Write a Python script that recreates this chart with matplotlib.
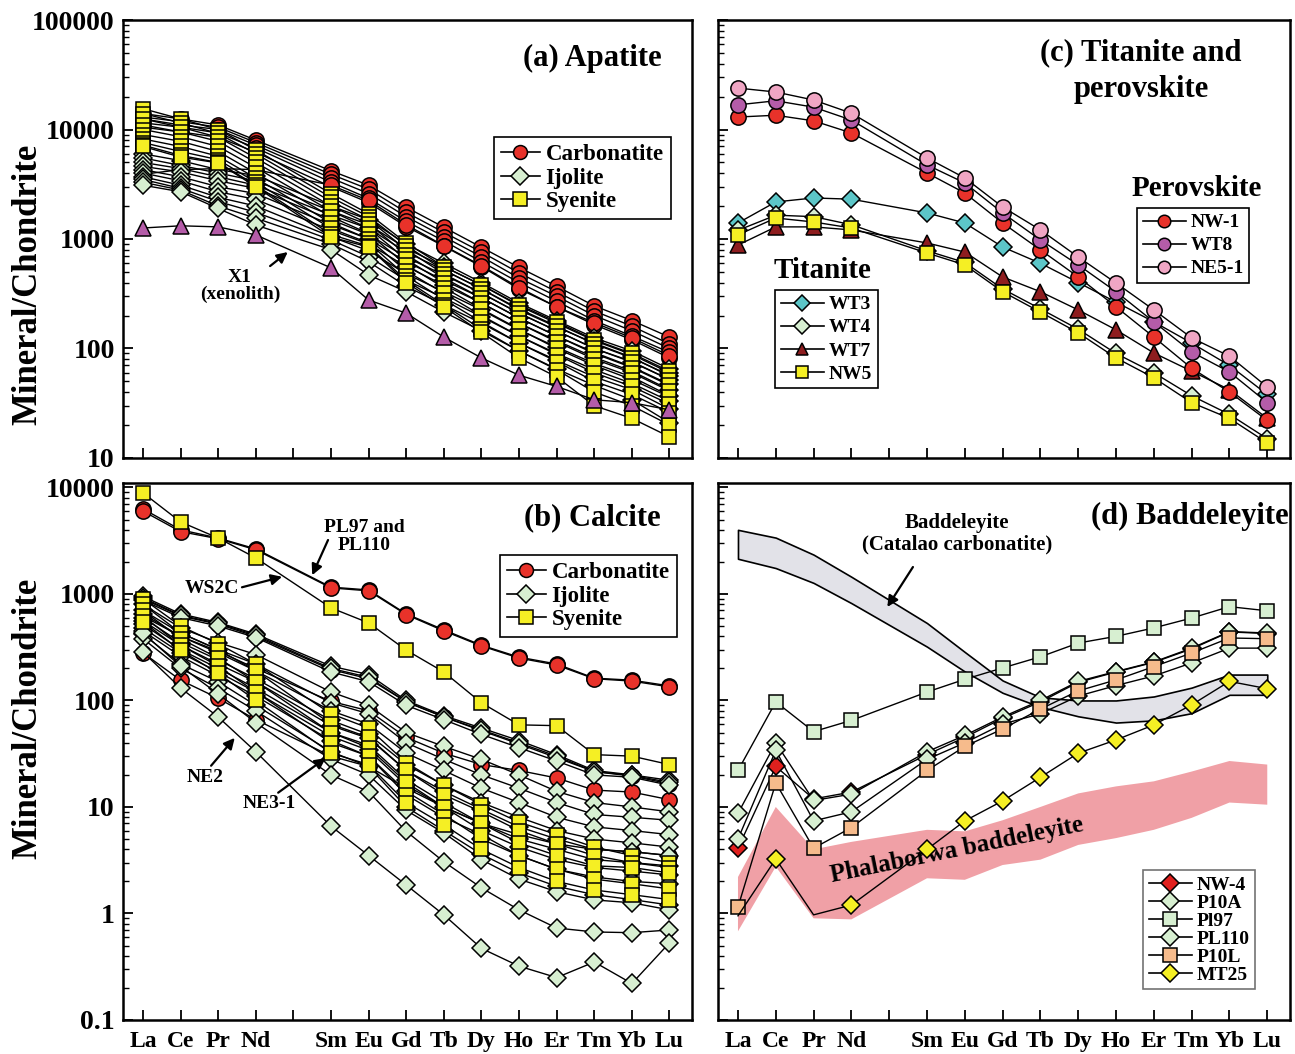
import matplotlib
matplotlib.use('Agg')
import matplotlib.pyplot as plt
from matplotlib.lines import Line2D
from matplotlib.ticker import LogLocator, NullFormatter, FuncFormatter
import numpy as np

plt.rcParams['font.family'] = ['Liberation Serif', 'DejaVu Serif']
plt.rcParams['font.weight'] = 'bold'

# REE positions (atomic number, Pm skipped)
ree_pos = [57, 58, 59, 60, 62, 63, 64, 65, 66, 67, 68, 69, 70, 71]
tick_pos = list(range(57, 72))
tick_labels = ['La', 'Ce', 'Pr', 'Nd', '', 'Sm', 'Eu', 'Gd', 'Tb', 'Dy', 'Ho', 'Er', 'Tm', 'Yb', 'Lu']

# ---- (a) apatite ----
ap_carbonatite = [
    [14000, 12500, 11000, 8000, 4200, 3100, 1950, 1280, 840, 550, 370, 245, 180, 127],
    [13000, 11800, 10500, 7600, 3900, 2850, 1750, 1150, 760, 490, 330, 220, 160, 110],
    [12500, 11000, 10000, 7200, 3600, 2600, 1600, 1050, 690, 440, 300, 200, 145, 100],
    [11500, 10500, 9300, 6800, 3300, 2350, 1450, 960, 620, 400, 270, 180, 130, 92],
    [10500, 9500, 8500, 6200, 3000, 2150, 1300, 860, 560, 350, 240, 165, 120, 82],
    [3900, 4300, 4400, 4300, 3100, 2250, 1350, 870, 570, 360, 240, 172, 125, 86],
]
ap_ijolite = [
    [6000, 5200, 4300, 3800, 2000, 1500, 900, 600, 400, 260, 180, 125, 95, 65],
    [5500, 4700, 4000, 3400, 1800, 1350, 820, 560, 380, 245, 170, 118, 88, 60],
    [5000, 4400, 3700, 3100, 1650, 1250, 760, 520, 350, 225, 157, 112, 83, 56],
    [4600, 4100, 3400, 2900, 1500, 1100, 680, 470, 320, 210, 145, 100, 76, 52],
    [4300, 3700, 3000, 2600, 1350, 1000, 620, 420, 290, 190, 130, 92, 68, 47],
    [4000, 3400, 2700, 2300, 1200, 900, 560, 380, 260, 170, 118, 83, 62, 42],
    [3700, 3100, 2400, 2000, 1050, 780, 480, 330, 225, 148, 103, 73, 55, 37],
    [3500, 2900, 2200, 1750, 980, 690, 420, 290, 195, 130, 90, 64, 48, 33],
    [3300, 2800, 2000, 1550, 900, 620, 370, 250, 170, 112, 78, 55, 42, 28],
    [3100, 2700, 1900, 1340, 800, 470, 330, 215, 145, 95, 65, 46, 34, 21],
]
ap_syenite = [
    [15500, 12500, 10000, 6500, 2600, 1700, 920, 560, 380, 250, 175, 120, 90, 62],
    [14000, 11500, 9200, 6000, 2400, 1600, 870, 520, 350, 230, 160, 110, 82, 57],
    [12500, 10500, 8500, 5500, 2200, 1500, 800, 480, 320, 210, 145, 100, 75, 52],
    [11000, 9500, 7800, 5000, 2000, 1380, 720, 440, 290, 190, 130, 90, 67, 46],
    [10000, 8600, 7000, 4500, 1800, 1250, 650, 400, 260, 170, 115, 80, 60, 41],
    [9000, 7800, 6300, 4000, 1600, 1120, 580, 360, 230, 150, 100, 70, 52, 36],
    [8200, 7000, 5700, 3600, 1400, 1000, 510, 320, 200, 130, 88, 60, 45, 31],
    [7600, 6300, 5300, 3300, 1250, 920, 460, 280, 175, 112, 76, 50, 38, 26],
    [7200, 5800, 5000, 3100, 1100, 860, 420, 250, 150, 95, 64, 40, 30, 20],
    [7000, 5600, 4950, 3000, 1040, 845, 400, 240, 140, 82, 55, 30, 23, 15.6],
]
ap_x1 = [1260, 1320, 1290, 1090, 545, 277, 210, 127, 82, 57, 45, 34, 32, 27.5]

# ---- (b) calcite ----
cc_carbonatite = [
    [6300, 4000, 3350, 2650, 1160, 1090, 650, 460, 330, 255, 220, 162, 155, 137],
    [6000, 3850, 3300, 2600, 1140, 1070, 640, 450, 325, 250, 215, 160, 152, 134],
    [900, 620, 520, 400, 195, 160, 97, 70, 52, 39, 29, 21.5, 19.5, 16.5],
    [620, 400, 290, 200, 98, 80, 45, 32, 25, 22, 18.7, 14.4, 13.8, 11.7],
    [280, 155, 105, 66, 30, 24, 15, 10, 7, 5.5, 4.5, 4.0, 3.8, 3.5],
]
cc_ijolite = [
    [950, 650, 540, 420, 210, 175, 100, 72, 55, 42, 31, 22, 20, 17.8],
    [920, 630, 530, 410, 200, 165, 97, 70, 53, 40, 30, 21.5, 19.8, 17],
    [870, 600, 500, 390, 185, 150, 90, 66, 48, 36, 27, 20, 19, 16],
    [800, 480, 350, 270, 120, 90, 50, 37, 28, 20, 14, 11, 10, 9],
    [700, 430, 300, 220, 95, 75, 40, 28, 20, 15, 11, 8.5, 8, 7.5],
    [650, 400, 280, 190, 80, 60, 32, 22, 15, 11, 8, 6.5, 6, 5.5],
    [600, 350, 240, 160, 65, 48, 25, 16, 11, 8, 6, 5, 4.6, 4.2],
    [560, 330, 220, 150, 58, 44, 22, 14, 9.5, 6.5, 5, 4, 3.8, 3.5],
    [520, 300, 200, 130, 50, 38, 18, 11, 7, 5, 4, 3.2, 3, 2.8],
    [480, 280, 185, 120, 46, 34, 16, 10, 6, 4.2, 3.2, 2.7, 2.5, 2.3],
    [450, 260, 170, 110, 42, 30, 14, 8.5, 5, 3.5, 2.6, 2.2, 2, 1.9],
    [420, 220, 150, 90, 33, 24, 10, 6, 3.6, 2.4, 1.8, 1.5, 1.35, 1.2],
    [380, 200, 130, 80, 28, 20, 9.3, 5.7, 3.2, 2.1, 1.6, 1.34, 1.26, 1.08],
    [430, 210, 115, 62, 20, 13.9, 5.9, 3.06, 1.74, 1.08, 0.73, 0.67, 0.66, 0.70],   # NE3-1
    [285, 131, 70, 33, 6.6, 3.5, 1.85, 0.97, 0.47, 0.32, 0.25, 0.35, 0.22, 0.53],   # NE2
]
cc_syenite = [
    [8900, 4750, 3350, 2180, 740, 535, 297, 185, 95, 59, 58, 31, 30, 25],           # WS2C
    [900, 500, 340, 220, 75, 55, 26, 16, 10.5, 7.2, 5.5, 4.2, 3.5, 3.0],
    [800, 430, 300, 190, 60, 45, 22, 13, 9, 6, 4.5, 3.5, 3.0, 2.7],
    [700, 380, 250, 150, 50, 36, 17, 10, 7, 4.6, 3.5, 2.8, 2.7, 2.4],
    [620, 330, 210, 120, 40, 30, 13, 8, 5.5, 3.5, 2.6, 2.1, 1.9, 1.7],
    [550, 295, 180, 100, 32, 25, 11, 6.8, 4, 2.7, 2.0, 1.66, 1.5, 1.35],
]

# ---- (c) titanite and perovskite ----
tit_wt3 = [1400, 2180, 2370, 2310, 1730, 1400, 845, 600, 400, 265, 175, 112, 70, 38]
tit_wt4 = [1200, 1650, 1600, 1350, 780, 610, 350, 230, 150, 90, 60, 37, 25, 15]
tit_wt7 = [880, 1290, 1290, 1210, 920, 760, 450, 330, 225, 148, 91, 62, 42, 23]
tit_nw5 = [1090, 1555, 1430, 1260, 745, 580, 330, 215, 139, 82, 54, 32, 23, 13.7]
prv_nw1 = [13000, 13500, 12000, 9300, 4010, 2630, 1400, 795, 450, 240, 127, 66, 40, 22]
prv_wt8 = [16800, 18300, 16000, 12200, 4750, 3250, 1730, 980, 580, 330, 175, 93, 61, 32]
prv_ne51 = [23900, 22000, 18600, 14100, 5500, 3610, 1960, 1210, 685, 396, 225, 125, 85, 44.5]

# ---- (d) baddeleyite ----
bd_nw4 = [4.1, 24, 11.9, 13.8, 31, 45, 68, 97, 148, 185, 228, 305, 440, 425]
bd_p10a = [8.7, 40, 11.5, 13.2, 33, 47, 70, 100, 151, 187, 230, 310, 443, 430]
bd_pl97 = [22, 97, 51, 65, 120, 158, 202, 257, 346, 400, 480, 594, 760, 695]
bd_pl110 = [5.0, 34, 7.4, 9.0, 28, 40, 60, 75, 110, 138, 170, 225, 310, 310]
bd_p10l = [1.15, 16.8, 4.1, 6.4, 22, 37, 54, 83, 123, 156, 208, 279, 386, 380]
bd_mt25 = [0.95, 3.25, 0.97, 1.2, 4.0, 7.4, 11.4, 19, 32, 42.6, 59, 91, 151, 129]
catalao_hi = [4000, 3380, 2340, 1450, 533, 285, 154, 107, 100, 100, 109, 132, 175, 175]
catalao_lo = [2140, 1750, 1270, 820, 320, 187, 118, 87, 71, 62, 65, 76, 113, 113]
phalab_hi = [2.2, 10, 4.0, 4.7, 6.1, 5.9, 7.5, 10, 13.4, 15.6, 17.4, 21.5, 27, 25]
phalab_lo = [0.68, 2.75, 0.9, 0.88, 2.14, 2.07, 2.85, 3.2, 4.4, 5.1, 6.1, 7.9, 11, 10.5]

RED = '#e8322a'
GREEN = '#d7efd1'
YELLOW = '#f5ef24'
PURPLE = '#b45ca8'
CYAN = '#5cc6c8'
DARKRED = '#8e1d1f'
PINK = '#f0a6c4'
ORANGE = '#f6bb8c'


def series(ax, y, marker, color, ms=10, lw=1.0, **kw):
    ax.plot(ree_pos, y, color='black', lw=lw, marker=marker, ms=ms,
            mfc=color, mec='black', mew=1.1, **kw)


def handle(marker, color, ms=10):
    return Line2D([], [], color='black', lw=1.2, marker=marker, ms=ms,
                  mfc=color, mec='black', mew=1.1)


def style(ax, ylim, xlabels, ylabels):
    ax.set_yscale('log')
    ax.set_xlim(56.47, 71.6)
    ax.set_ylim(*ylim)
    ax.set_xticks(tick_pos)
    if xlabels:
        ax.set_xticklabels(tick_labels)
    else:
        ax.set_xticklabels([])
    ax.yaxis.set_major_locator(LogLocator(base=10, numticks=12))
    ax.yaxis.set_minor_locator(LogLocator(base=10, subs=np.arange(2, 10), numticks=12))
    ax.yaxis.set_minor_formatter(NullFormatter())
    if ylabels:
        ax.yaxis.set_major_formatter(FuncFormatter(lambda v, p: '%g' % v))
    else:
        ax.yaxis.set_major_formatter(NullFormatter())
    ax.tick_params(which='major', direction='in', length=7, width=1.3,
                   top=False, right=False)
    ax.tick_params(which='minor', direction='in', length=4, width=1.0)
    ax.tick_params(axis='y', labelsize=20, pad=6)
    ax.tick_params(axis='x', labelsize=17, pad=8)
    for s in ax.spines.values():
        s.set_linewidth(1.8)


def legend(ax, handles, labels, anchor, size, edge='black', hl=1.7, ls=0.12):
    lg = ax.legend(handles, labels, loc='upper left', bbox_to_anchor=anchor,
                   borderaxespad=0, fancybox=False, framealpha=1, edgecolor=edge,
                   prop={'size': size, 'weight': 'bold'}, handlelength=hl,
                   handletextpad=0.25, labelspacing=ls, borderpad=0.3)
    lg.get_frame().set_linewidth(1.2)
    lg.set_zorder(10)
    return lg


arrow = dict(arrowstyle='-|>', color='black', lw=1.6, mutation_scale=16, shrinkA=0, shrinkB=0)

fig = plt.figure(figsize=(12.95, 10.54), dpi=100)
ax_a = fig.add_axes([0.095, 0.5655, 0.4394, 0.4155])
ax_c = fig.add_axes([0.5544, 0.5655, 0.4417, 0.4155])
ax_b = fig.add_axes([0.095, 0.0323, 0.4394, 0.5094])
ax_d = fig.add_axes([0.5544, 0.0323, 0.4417, 0.5094])

# (a) Apatite
for y in ap_carbonatite:
    series(ax_a, y, 'o', RED, ms=11)
for y in ap_ijolite:
    series(ax_a, y, 'D', GREEN, ms=9)
for y in ap_syenite:
    series(ax_a, y, 's', YELLOW, ms=10)
series(ax_a, ap_x1, '^', PURPLE, ms=11)
style(ax_a, (10, 100000), False, True)
ax_a.text(0.824, 0.913, '(a) Apatite', transform=ax_a.transAxes, ha='center', va='center', fontsize=22)
legend(ax_a, [handle('o', RED), handle('D', GREEN, 9), handle('s', YELLOW)],
       ['Carbonatite', 'Ijolite', 'Syenite'], (0.652, 0.733), 16.5)
ax_a.annotate('X1\n(xenolith)', xy=(60.85, 760), xytext=(0.2056, 0.3927),
              textcoords='axes fraction', ha='center', va='center', fontsize=14,
              linespacing=1.0, arrowprops=dict(arrow, relpos=(0.75, 0.85)))

# (b) Calcite
for y in cc_carbonatite:
    series(ax_b, y, 'o', RED, ms=11)
for y in cc_ijolite:
    series(ax_b, y, 'D', GREEN, ms=9)
for y in cc_syenite:
    series(ax_b, y, 's', YELLOW, ms=10)
style(ax_b, (0.1, 11000), True, True)
ax_b.text(0.824, 0.935, '(b) Calcite', transform=ax_b.transAxes, ha='center', va='center', fontsize=22)
legend(ax_b, [handle('o', RED), handle('D', GREEN, 9), handle('s', YELLOW)],
       ['Carbonatite', 'Ijolite', 'Syenite'], (0.6626, 0.866), 16.5)
ax_b.text(0.4236, 0.90, 'PL97 and\nPL110', transform=ax_b.transAxes, ha='center', va='center',
          fontsize=14, linespacing=1.05)
ax_b.annotate('', xy=(61.5, 1500), xytext=(0.3603, 0.8939), textcoords='axes fraction',
              arrowprops=arrow)
ax_b.annotate('WS2C', xy=(60.7, 1450), xytext=(0.1564, 0.8045), textcoords='axes fraction',
              ha='center', va='center', fontsize=14, arrowprops=dict(arrow, relpos=(1.0, 0.5)))
ax_b.annotate('NE2', xy=(59.44, 44.5), xytext=(0.1441, 0.4525), textcoords='axes fraction',
              ha='center', va='center', fontsize=14, arrowprops=dict(arrow, relpos=(0.6, 1.0)))
ax_b.annotate('NE3-1', xy=(61.86, 28.8), xytext=(0.2566, 0.4023), textcoords='axes fraction',
              ha='center', va='center', fontsize=14, arrowprops=dict(arrow, relpos=(0.6, 1.0)))

# (c) Titanite and perovskite
series(ax_c, tit_wt3, 'D', CYAN, ms=9)
series(ax_c, tit_wt4, 'D', GREEN, ms=9)
series(ax_c, tit_wt7, '^', DARKRED, ms=11)
series(ax_c, tit_nw5, 's', YELLOW, ms=10)
series(ax_c, prv_nw1, 'o', RED, ms=11)
series(ax_c, prv_wt8, 'o', PURPLE, ms=11)
series(ax_c, prv_ne51, 'o', PINK, ms=11)
style(ax_c, (10, 100000), False, False)
ax_c.text(0.7395, 0.8825, '(c) Titanite and\nperovskite', transform=ax_c.transAxes,
          ha='center', va='center', fontsize=22, linespacing=1.35)
ax_c.text(0.837, 0.616, 'Perovskite', transform=ax_c.transAxes, ha='center', va='center', fontsize=21)
ax_c.text(0.182, 0.429, 'Titanite', transform=ax_c.transAxes, ha='center', va='center', fontsize=21)
lg1 = legend(ax_c, [handle('o', RED, 9), handle('o', PURPLE, 9), handle('o', PINK, 9)],
             ['NW-1', 'WT8', 'NE5-1'], (0.7325, 0.571), 14, hl=2.2, ls=0.28)
ax_c.add_artist(lg1)
legend(ax_c, [handle('D', CYAN, 8), handle('D', GREEN, 8), handle('^', DARKRED, 9), handle('s', YELLOW, 9)],
       ['WT3', 'WT4', 'WT7', 'NW5'], (0.0997, 0.3836), 14, hl=2.2, ls=0.28)

# (d) Baddeleyite
ax_d.fill_between(ree_pos, phalab_lo, phalab_hi, facecolor='#f0a0a6', edgecolor='none', zorder=1)
ax_d.fill_between(ree_pos, catalao_lo, catalao_hi, facecolor='#e2e2e8', edgecolor='black', lw=1.2, zorder=1)
ax_d.text(0.418, 0.3166, 'Phalaborwa baddeleyite', transform=ax_d.transAxes, ha='center', va='center',
          fontsize=18, rotation=11.5, zorder=1.5)
series(ax_d, bd_pl97, 's', GREEN, ms=10)
series(ax_d, bd_nw4, 'D', '#e0201e', ms=9)
series(ax_d, bd_p10a, 'D', GREEN, ms=9)
series(ax_d, bd_pl110, 'D', GREEN, ms=9)
series(ax_d, bd_p10l, 's', ORANGE, ms=10)
series(ax_d, bd_mt25, 'D', YELLOW, ms=9, markevery=[1, 3, 4, 5, 6, 7, 8, 9, 10, 11, 12, 13])
style(ax_d, (0.1, 11000), True, False)
ax_d.text(0.825, 0.9385, '(d) Baddeleyite', transform=ax_d.transAxes, ha='center', va='center', fontsize=22)
ax_d.text(0.418, 0.905, 'Baddeleyite\n(Catalao carbonatite)', transform=ax_d.transAxes,
          ha='center', va='center', fontsize=15, linespacing=1.1)
ax_d.annotate('', xy=(60.95, 755), xytext=(0.3409, 0.8436), textcoords='axes fraction', arrowprops=arrow)
legend(ax_d, [handle('D', '#e0201e', 9), handle('D', GREEN, 9), handle('s', GREEN, 10),
              handle('D', GREEN, 9), handle('s', ORANGE, 10), handle('D', YELLOW, 9)],
       ['NW-4', 'P10A', 'Pl97', 'PL110', 'P10L', 'MT25'], (0.743, 0.279), 14,
       edge='0.45', hl=2.2, ls=0.02)

fig.text(0.0215, 0.7305, 'Mineral/Chondrite', rotation=90, ha='center', va='center', fontsize=25)
fig.text(0.0215, 0.3188, 'Mineral/Chondrite', rotation=90, ha='center', va='center', fontsize=25)

fig.savefig('out.png', dpi=100)
